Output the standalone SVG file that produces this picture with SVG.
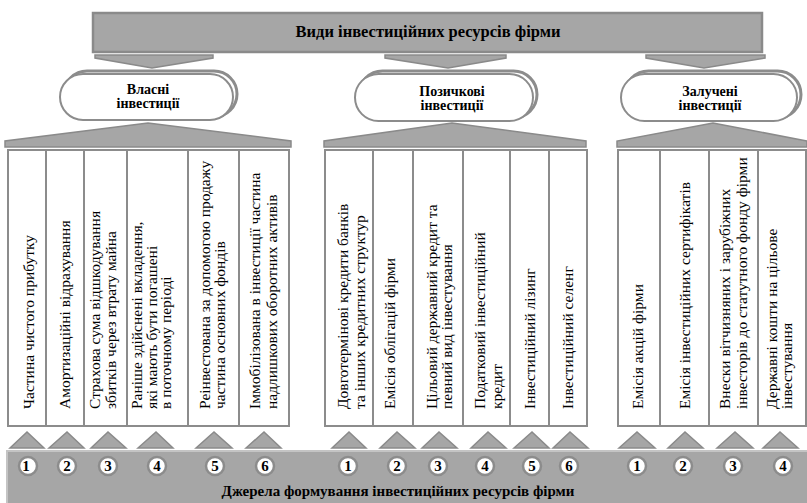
<svg xmlns="http://www.w3.org/2000/svg" width="807" height="503" viewBox="0 0 807 503">
<style>
.g{fill:#a6a6a6;stroke:#8a8a8a;stroke-width:1.5}
.col{fill:#fff;stroke:#8c8c8c;stroke-width:2}
.capb{fill:none;stroke:#8c8c8c;stroke-width:3}
.capf{fill:#fff;stroke:#8c8c8c;stroke-width:2}
.h{font-family:"Liberation Serif","DejaVu Serif",serif;font-weight:bold;font-size:15px;text-anchor:middle;fill:#000}
.k{font-size:14px}
.big{font-size:16.5px}
.t{font-family:"Liberation Serif","DejaVu Serif",serif;font-size:15.5px;fill:#000}
.c{fill:#fff;stroke:#8c8c8c;stroke-width:2.5}
.n{font-family:"Liberation Serif","DejaVu Serif",serif;font-weight:bold;font-size:15px;text-anchor:middle;fill:#000}
</style>
<rect width="807" height="503" fill="#fff"/>

<g id="title">
<rect x="93" y="13" width="669" height="39" fill="#a6a6a6" stroke="#8a8a8a" stroke-width="2.5"/>
<text class="h big" x="428" y="37">Види інвестиційних ресурсів фірми</text>
</g>

<g id="connectors">
<polygon class="g" points="95,55 213,55 213,58 152,68 95,58"/>
<polygon class="g" points="385,55 506,55 506,58 448,68 385,58"/>
<polygon class="g" points="646,55 765,55 765,58 704,68 646,58"/>
<polygon class="g" points="5,147 5,141 148,123 291,141 291,147"/>
<polygon class="g" points="324,147 324,141 452,123 586,141 586,147"/>
<polygon class="g" points="617,147 617,141 713,123 807,141 807,147"/>
<g class="g">
<polygon points="10,448 27,432 44,448"/>
<polygon points="49,448 67,432 84,448"/>
<polygon points="91,448 108,432 126,448"/>
<polygon points="138,448 156,432 173,448"/>
<polygon points="196,448 214,432 232,448"/>
<polygon points="246,448 264,432 281,448"/>
<polygon points="332,448 349,432 366,448"/>
<polygon points="380,448 397,432 415,448"/>
<polygon points="422,448 439,432 457,448"/>
<polygon points="471,448 488,432 506,448"/>
<polygon points="514,448 532,432 549,448"/>
<polygon points="553,448 570,432 588,448"/>
<polygon points="619,448 637,432 655,448"/>
<polygon points="668,448 685,432 703,448"/>
<polygon points="717,448 735,432 753,448"/>
<polygon points="763,448 780,432 798,448"/>
</g>
</g>

<g id="own">
<rect class="capb" x="64" y="71" width="173" height="46" rx="23"/>
<rect class="capf" x="60" y="74" width="173" height="46" rx="23"/>
<text class="h k" x="148" y="94">Власні</text>
<text class="h k" x="148" y="108">інвестиції</text>
</g>
<g id="borrowed">
<rect class="capb" x="359" y="71" width="178" height="47" rx="23.5"/>
<rect class="capf" x="355" y="74" width="178" height="47" rx="23.5"/>
<text class="h k" x="452" y="96">Позичкові</text>
<text class="h k" x="452" y="110">інвестиції</text>
</g>
<g id="attracted">
<rect class="capb" x="625" y="71" width="176" height="47" rx="23.5"/>
<rect class="capf" x="621" y="74" width="176" height="47" rx="23.5"/>
<text class="h k" x="710" y="96">Залучені</text>
<text class="h k" x="710" y="110">інвестиції</text>
</g>

<g id="own-items">
<rect class="col" x="8" y="150" width="38" height="276"/>
<rect class="col" x="46" y="150" width="38" height="276"/>
<rect class="col" x="84" y="150" width="43" height="276"/>
<rect class="col" x="127" y="150" width="61" height="276"/>
<rect class="col" x="188" y="150" width="51" height="276"/>
<rect class="col" x="239" y="150" width="50" height="276"/>
<text class="t" transform="translate(34,409) rotate(-90)">Частина чистого прибутку</text>
<text class="t" transform="translate(70,409) rotate(-90)">Амортизаційні відрахування</text>
<text class="t" transform="translate(100,409) rotate(-90)">Страхова сума відшкодування</text>
<text class="t" transform="translate(116,409) rotate(-90)">збитків через втрату майна</text>
<text class="t" transform="translate(142,409) rotate(-90)">Раніше здійснені вкладення,</text>
<text class="t" transform="translate(157,409) rotate(-90)">які мають бути погашені</text>
<text class="t" transform="translate(171,409) rotate(-90)">в поточному періоді</text>
<text class="t" transform="translate(210,409) rotate(-90)">Реінвестована за допомогою продажу</text>
<text class="t" transform="translate(225,409) rotate(-90)">частина основних фондів</text>
<text class="t" transform="translate(260,409) rotate(-90)">Іммобілізована в інвестиції частина</text>
<text class="t" transform="translate(277,409) rotate(-90)">надлишкових оборотних активів</text>
</g>

<g id="borrowed-items">
<rect class="col" x="325" y="150" width="48" height="276"/>
<rect class="col" x="373" y="150" width="40" height="276"/>
<rect class="col" x="413" y="150" width="50" height="276"/>
<rect class="col" x="463" y="150" width="47" height="276"/>
<rect class="col" x="510" y="150" width="39" height="276"/>
<rect class="col" x="549" y="150" width="38" height="276"/>
<text class="t" transform="translate(348,409) rotate(-90)">Довготермінові кредити банків</text>
<text class="t" transform="translate(365,409) rotate(-90)">та інших кредитних структур</text>
<text class="t" transform="translate(395,409) rotate(-90)">Емісія облігацій фірми</text>
<text class="t" transform="translate(437,409) rotate(-90)">Цільовий державний кредит та</text>
<text class="t" transform="translate(452,409) rotate(-90)">певний вид інвестування</text>
<text class="t" transform="translate(485,409) rotate(-90)">Податковий інвестиційний</text>
<text class="t" transform="translate(502,409) rotate(-90)">кредит</text>
<text class="t" transform="translate(535,409) rotate(-90)">Інвестиційний лізинг</text>
<text class="t" transform="translate(573,409) rotate(-90)">Інвестиційний селенг</text>
</g>

<g id="attracted-items">
<rect class="col" x="618" y="150" width="42" height="276"/>
<rect class="col" x="660" y="150" width="49" height="276"/>
<rect class="col" x="709" y="150" width="49" height="276"/>
<rect class="col" x="758" y="150" width="48" height="276"/>
<text class="t" transform="translate(643,409) rotate(-90)">Емісія акцій фірми</text>
<text class="t" transform="translate(690,409) rotate(-90)">Емісія інвестиційних сертифікатів</text>
<text class="t" transform="translate(730,409) rotate(-90)">Внески вітчизняних і зарубіжних</text>
<text class="t" transform="translate(747,409) rotate(-90)">інвесторів до статутного фонду фірми</text>
<text class="t" transform="translate(777,409) rotate(-90)">Державні кошти на цільове</text>
<text class="t" transform="translate(792,409) rotate(-90)">інвестування</text>
</g>

<g id="sources">
<rect x="7" y="451" width="801" height="53" fill="#a6a6a6" stroke="#c4c4c4" stroke-width="2"/>
<g>
<circle class="c" cx="28" cy="466" r="9"/><text class="n" x="26" y="471">1</text>
<circle class="c" cx="67" cy="466" r="9"/><text class="n" x="67" y="471">2</text>
<circle class="c" cx="108" cy="466" r="9"/><text class="n" x="108" y="471">3</text>
<circle class="c" cx="157" cy="466" r="9"/><text class="n" x="157" y="471">4</text>
<circle class="c" cx="215" cy="466" r="9"/><text class="n" x="215" y="471">5</text>
<circle class="c" cx="265" cy="466" r="9"/><text class="n" x="265" y="471">6</text>
<circle class="c" cx="348" cy="466" r="9"/><text class="n" x="348" y="471">1</text>
<circle class="c" cx="397" cy="466" r="9"/><text class="n" x="397" y="471">2</text>
<circle class="c" cx="438" cy="466" r="9"/><text class="n" x="438" y="471">3</text>
<circle class="c" cx="485" cy="466" r="9"/><text class="n" x="485" y="471">4</text>
<circle class="c" cx="532" cy="466" r="9"/><text class="n" x="532" y="471">5</text>
<circle class="c" cx="569" cy="466" r="9"/><text class="n" x="569" y="471">6</text>
<circle class="c" cx="637" cy="466" r="9"/><text class="n" x="637" y="471">1</text>
<circle class="c" cx="683" cy="466" r="9"/><text class="n" x="683" y="471">2</text>
<circle class="c" cx="733" cy="466" r="9"/><text class="n" x="733" y="471">3</text>
<circle class="c" cx="783" cy="466" r="9"/><text class="n" x="783" y="471">4</text>
</g>
<text class="h" x="398" y="496">Джерела формування інвестиційних ресурсів фірми</text>
</g>
</svg>
